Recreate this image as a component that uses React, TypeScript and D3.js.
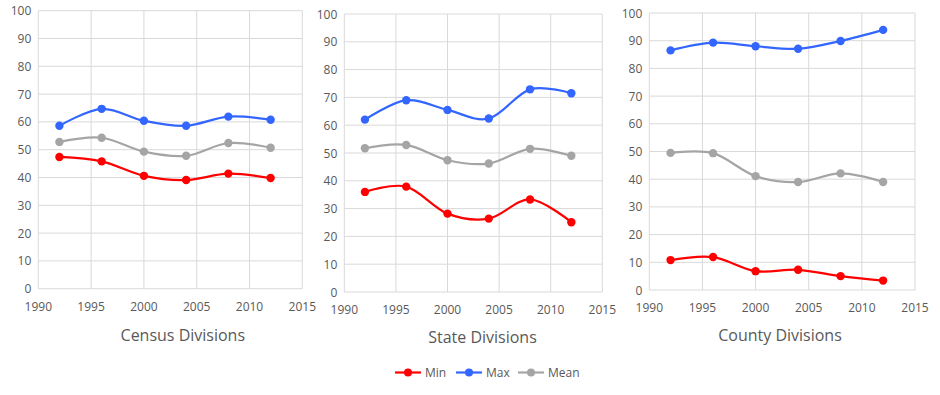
import React from "react";
import * as d3 from "d3";

const years = [1992, 1996, 2000, 2004, 2008, 2012];
const xTicks = [1990, 1995, 2000, 2005, 2010, 2015];
const yTicks = [0, 10, 20, 30, 40, 50, 60, 70, 80, 90, 100];
const panelTitles = ["Census Divisions", "State Divisions", "County Divisions"];
const seriesNames = ["Min", "Max", "Mean"];
const seriesColors = ["#FF0000", "#3366FF", "#A5A5A5"];

const censusMin = [47.4, 45.8, 40.6, 39.1, 41.4, 39.8];
const censusMax = [58.6, 64.7, 60.4, 58.6, 61.9, 60.8];
const censusMean = [52.8, 54.3, 49.3, 47.8, 52.4, 50.7];

const stateMin = [36.0, 37.9, 28.2, 26.4, 33.3, 25.1];
const stateMax = [62.0, 69.0, 65.5, 62.4, 72.9, 71.5];
const stateMean = [51.7, 52.9, 47.4, 46.2, 51.5, 49.0];

const countyMin = [10.8, 11.9, 6.8, 7.3, 5.0, 3.4];
const countyMax = [86.5, 89.3, 88.0, 87.1, 89.9, 93.9];
const countyMean = [49.5, 49.4, 41.1, 39.0, 42.1, 39.0];

const panelData = [
  [censusMin, censusMax, censusMean],
  [stateMin, stateMax, stateMean],
  [countyMin, countyMax, countyMean],
];

// layout (positions only)
const panelBoxes = [
  { x0: 38.3, x1: 302.3, y0: 288.7, y1: 10.7, titleX: 182.8, titleY: 340.7 },
  { x0: 344.3, x1: 602.3, y0: 292, y1: 14, titleX: 482.5, titleY: 342.7 },
  { x0: 649.3, x1: 915, y0: 290, y1: 13, titleX: 780, titleY: 340.7 },
];

const FONT = "'Open Sans', 'Noto Sans', sans-serif";
const TXT = "#595959";
const GRID = "#D9D9D9";

function Panel({ idx }: { idx: number }) {
  const b = panelBoxes[idx];
  const x = d3.scaleLinear().domain([1990, 2015]).range([b.x0, b.x1]);
  const y = d3.scaleLinear().domain([0, 100]).range([b.y0, b.y1]);
  const line = d3
    .line<number>()
    .x((_, i) => x(years[i]))
    .y((d) => y(d))
    .curve(d3.curveCatmullRom.alpha(0));
  const series = panelData[idx];
  return (
    <g>
      {yTicks.map((t) => (
        <line key={"gy" + t} x1={b.x0} x2={b.x1} y1={y(t)} y2={y(t)} stroke={GRID} strokeWidth={1} />
      ))}
      {xTicks.map((t) => (
        <line key={"gx" + t} x1={x(t)} x2={x(t)} y1={b.y0} y2={b.y1} stroke={GRID} strokeWidth={1} />
      ))}
      {yTicks.map((t) => (
        <text
          key={"ly" + t}
          x={b.x0 - 7}
          y={y(t)}
          textAnchor="end"
          dominantBaseline="central"
          fontSize={12}
          fill={TXT}
          fontFamily={FONT}
        >
          {t}
        </text>
      ))}
      {xTicks.map((t) => (
        <text
          key={"lx" + t}
          x={x(t)}
          y={b.y0 + 17.5}
          textAnchor="middle"
          dominantBaseline="central"
          fontSize={12}
          fill={TXT}
          fontFamily={FONT}
        >
          {t}
        </text>
      ))}
      {series.map((vals, si) => (
        <g key={"s" + si}>
          <path d={line(vals) || ""} fill="none" stroke={seriesColors[si]} strokeWidth={2.2} />
          {vals.map((v, i) => (
            <circle key={i} cx={x(years[i])} cy={y(v)} r={4.2} fill={seriesColors[si]} />
          ))}
        </g>
      ))}
      <text
        x={b.titleX}
        y={b.titleY}
        textAnchor="middle"
        fontSize={16}
        fill={TXT}
        fontFamily={FONT}
      >
        {panelTitles[idx]}
      </text>
    </g>
  );
}

const legendX = [395, 456, 518];

export default function App() {
  return (
    <div style={{ position: "absolute", left: 0, top: 0, width: 940, height: 395, background: "#fff" }}>
      <svg width={940} height={395} style={{ display: "block" }}>
        <rect width={940} height={395} fill="#fff" />
        {panelBoxes.map((_, i) => (
          <Panel key={i} idx={i} />
        ))}
        {seriesNames.map((n, i) => (
          <g key={n}>
            <line x1={legendX[i]} x2={legendX[i] + 26} y1={372.5} y2={372.5} stroke={seriesColors[i]} strokeWidth={2.2} />
            <circle cx={legendX[i] + 13} cy={372.5} r={4} fill={seriesColors[i]} />
            <text
              x={legendX[i] + 30}
              y={372.5}
              dominantBaseline="central"
              fontSize={12}
              fill={TXT}
              fontFamily={FONT}
            >
              {n}
            </text>
          </g>
        ))}
      </svg>
    </div>
  );
}
